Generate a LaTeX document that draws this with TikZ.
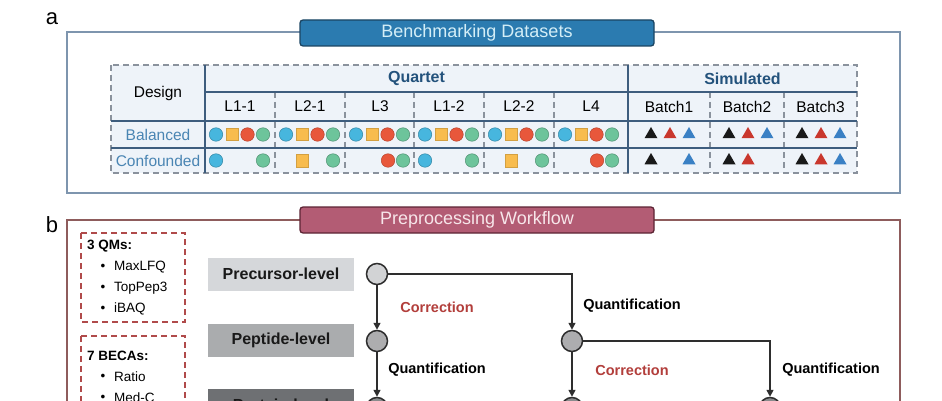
\documentclass[tikz,border=0pt]{standalone}
\usepackage{fontspec}
\setmainfont{Liberation Sans}
\usetikzlibrary{arrows.meta,shapes.geometric,positioning}
\definecolor{frameA}{HTML}{7E95AE}
\definecolor{tabA}{HTML}{2B7BB0}
\definecolor{tabAline}{HTML}{1B4563}
\definecolor{tabAtext}{HTML}{D4EEF7}
\definecolor{frameB}{HTML}{8E5C5C}
\definecolor{tabB}{HTML}{B35C74}
\definecolor{tabBline}{HTML}{5C2434}
\definecolor{tabBtext}{HTML}{F7E6EA}
\definecolor{tblfill}{HTML}{EEF3F9}
\definecolor{tblline}{HTML}{3E5D7E}
\definecolor{tbldash}{HTML}{8A929D}
\definecolor{headblue}{HTML}{23527C}
\definecolor{rowblue}{HTML}{4A85B3}
\definecolor{mblue}{HTML}{47B6DE}
\definecolor{morange}{HTML}{F8BC4E}
\definecolor{mred}{HTML}{E8573B}
\definecolor{mgreen}{HTML}{6DC49B}
\definecolor{tred}{HTML}{C9372D}
\definecolor{tblue}{HTML}{3A80C4}
\definecolor{qmdash}{HTML}{B04A4A}
\definecolor{corr}{HTML}{B23E3B}
\definecolor{lvlA}{HTML}{D5D7DA}
\definecolor{lvlB}{HTML}{AAACAE}
\definecolor{lvlC}{HTML}{6E7073}
\definecolor{dotA}{HTML}{D2D3D5}
\definecolor{dotB}{HTML}{ADADAF}
\definecolor{dotC}{HTML}{8A8B8D}
\definecolor{ink}{HTML}{2E2E2E}
\begin{document}
\begin{tikzpicture}[x=1pt,y=-1pt]
\newcommand{\rowbal}{134.5}
\newcommand{\rowcon}{160.5}
\newcommand{\fsz}[1]{\fontsize{#1}{#1}\selectfont}
\tikzstyle{tabbox}=[draw,line width=1.3pt,rounded corners=3pt,minimum width=354pt,minimum height=26pt,inner sep=0pt,font=\fsz{18}]
\tikzstyle{cell}=[inner sep=0pt,font=\fsz{15.5}]
\tikzstyle{hdr}=[inner sep=0pt,font=\fsz{16}\bfseries,text=headblue]
\tikzstyle{tblsolid}=[draw=tblline,line width=1.1pt]
\tikzstyle{tbldashed}=[draw=tbldash,line width=1.1pt,dash pattern=on 6pt off 4pt]
\tikzstyle{disc}=[circle,draw,line width=0.5pt,minimum size=13.5pt,inner sep=0pt]
\tikzstyle{dB}=[disc,fill=mblue,draw=mblue!75!black]
\tikzstyle{dR}=[disc,fill=mred,draw=mred!80!black]
\tikzstyle{dG}=[disc,fill=mgreen,draw=mgreen!75!black]
\tikzstyle{dS}=[rectangle,draw=morange!85!black,fill=morange,line width=0.5pt,minimum size=12.5pt,inner sep=0pt]
\tikzstyle{tri}=[regular polygon,regular polygon sides=3,minimum size=15pt,inner sep=0pt]
\tikzstyle{lvlbox}=[minimum width=146pt,minimum height=33pt,inner sep=0pt,font=\fsz{16}\bfseries,text=black!90]
\tikzstyle{stage}=[circle,draw=ink,line width=1.5pt,minimum size=21pt,inner sep=0pt]
\tikzstyle{flow}=[draw=ink,line width=1.5pt,-{Triangle[length=7pt,width=7pt]}]
\tikzstyle{op}=[inner sep=0pt,font=\fsz{14.5}\bfseries]
\tikzstyle{qmtext}=[anchor=west,inner sep=0pt,font=\fsz{13.5}]
\useasboundingbox (0,0) rectangle (942,401);
\clip (0,0) rectangle (942,401);
% panel a
\node[inner sep=0pt,font=\fsz{22}] (la) at (52,19) {a};
\draw[frameA,line width=1.2pt] (67,32) rectangle (900,193);
\node[tabbox,fill=tabA,draw=tabAline,text=tabAtext] (titleA) at (477,33) {Benchmarking Datasets};
\fill[tblfill] (111,65) rectangle (857,173);
\draw[tbldashed] (111,65) rectangle (857,173);
\foreach \x in {275,345,414,484,554,710,784}
  \draw[tbldashed] (\x,92) -- (\x,173);
\draw[tblsolid] (205,65) -- (205,173);
\draw[tblsolid] (628,65) -- (628,173);
\draw[tblsolid] (205,92) -- (857,92);
\draw[tblsolid] (111,121) -- (857,121);
\draw[tblsolid] (111,148) -- (857,148);
\node[cell] (design) at (158,93) {Design};
\node[hdr] (quartet) at (416.5,78.5) {Quartet};
\node[hdr] (simulated) at (742.5,78.5) {Simulated};
\foreach \lab/\cx in {L1-1/240,L2-1/310,L3/380,L1-2/449,L2-2/519,L4/591,Batch1/669,Batch2/747,Batch3/820.5}
  \node[cell] (h-\lab) at (\cx,106.5) {\lab};
\node[cell,text=rowblue] (balanced) at (158,\rowbal) {Balanced};
\node[cell,text=rowblue] (confounded) at (158,\rowcon) {Confounded};
\foreach \cx in {205,275,345,414,484,554} {
  \node[dB] (bal-\cx-1) at (\cx+11,\rowbal) {};
  \node[dS] (bal-\cx-2) at (\cx+27,\rowbal) {};
  \node[dR] (bal-\cx-3) at (\cx+42.5,\rowbal) {};
  \node[dG] (bal-\cx-4) at (\cx+58,\rowbal) {};
}
\node[dB] (con-1a) at (216,\rowcon) {};
\node[dG] (con-1d) at (263,\rowcon) {};
\node[dS] (con-2b) at (302,\rowcon) {};
\node[dG] (con-2d) at (333,\rowcon) {};
\node[dR] (con-3c) at (388,\rowcon) {};
\node[dG] (con-3d) at (403,\rowcon) {};
\node[dB] (con-4a) at (425,\rowcon) {};
\node[dG] (con-4d) at (472,\rowcon) {};
\node[dS] (con-5b) at (511,\rowcon) {};
\node[dG] (con-5d) at (542,\rowcon) {};
\node[dR] (con-6c) at (597,\rowcon) {};
\node[dG] (con-6d) at (612,\rowcon) {};
\foreach \cx in {670,748,821} {
  \node[tri,fill=black!90] (sb-\cx-1) at (\cx-19,\rowbal) {};
  \node[tri,fill=tred] (sb-\cx-2) at (\cx,\rowbal) {};
  \node[tri,fill=tblue] (sb-\cx-3) at (\cx+19,\rowbal) {};
}
\node[tri,fill=black!90] (sc-1a) at (651,\rowcon) {};
\node[tri,fill=tblue] (sc-1c) at (689,\rowcon) {};
\node[tri,fill=black!90] (sc-2a) at (729,\rowcon) {};
\node[tri,fill=tred] (sc-2b) at (748,\rowcon) {};
\node[tri,fill=black!90] (sc-3a) at (802,\rowcon) {};
\node[tri,fill=tred] (sc-3b) at (821,\rowcon) {};
\node[tri,fill=tblue] (sc-3c) at (840,\rowcon) {};
% panel b
\node[inner sep=0pt,font=\fsz{22}] (lb) at (52,225) {b};
\draw[frameB,line width=1.2pt] (67,220) rectangle (900,470);
\node[tabbox,fill=tabB,draw=tabBline,text=tabBtext] (titleB) at (477,220) {Preprocessing Workflow};
\draw[qmdash,line width=1.5pt,dash pattern=on 6pt off 4pt] (81,233) rectangle (185,322);
\draw[qmdash,line width=1.5pt,dash pattern=on 6pt off 4pt] (81,336) rectangle (185,470);
\node[qmtext,font=\fsz{13.5}\bfseries] (qmhead) at (87,246) {3 QMs:};
\foreach \qm/\y in {MaxLFQ/267,TopPep3/288,iBAQ/309} {
  \node[inner sep=0pt,font=\fsz{13.5}] (bq-\qm) at (103,\y) {\textbullet};
  \node[qmtext] (qm-\qm) at (114,\y) {\qm};
}
\node[qmtext,font=\fsz{13.5}\bfseries] (bchead) at (87,356) {7 BECAs:};
\foreach \bc/\y in {Ratio/377,Med-C/398} {
  \node[inner sep=0pt,font=\fsz{13.5}] (bb-\bc) at (103,\y) {\textbullet};
  \node[qmtext] (bc-\bc) at (114,\y) {\bc};
}
\node[lvlbox,fill=lvlA] (precursor) at (281,274) {Precursor-level};
\node[lvlbox,fill=lvlB] (peptide) at (281,340.5) {Peptide-level};
\node[lvlbox,fill=lvlC] (protein) at (281,405) {Protein-level};
\node[stage,fill=dotA] (pre) at (377,274) {};
\node[stage,fill=dotB] (pepA) at (377,341) {};
\node[stage,fill=dotB] (pepB) at (572,341) {};
\node[stage,fill=dotC] (proA) at (377,408) {};
\node[stage,fill=dotC] (proB) at (572,408) {};
\node[stage,fill=dotC] (proC) at (770,408) {};
\draw[flow] (pre) -- (pepA);
\draw[flow] (pre) -| (pepB);
\draw[flow] (pepA) -- (proA);
\draw[flow] (pepB) -- (proB);
\draw[flow] (pepB) -| (proC);
\node[op,text=corr] (corrA) at (437,307) {Correction};
\node[op] (quantA) at (632,306) {Quantification};
\node[op] (quantB) at (437,370) {Quantification};
\node[op,text=corr] (corrB) at (632,370) {Correction};
\node[op] (quantC) at (831,370) {Quantification};
\end{tikzpicture}
\end{document}
